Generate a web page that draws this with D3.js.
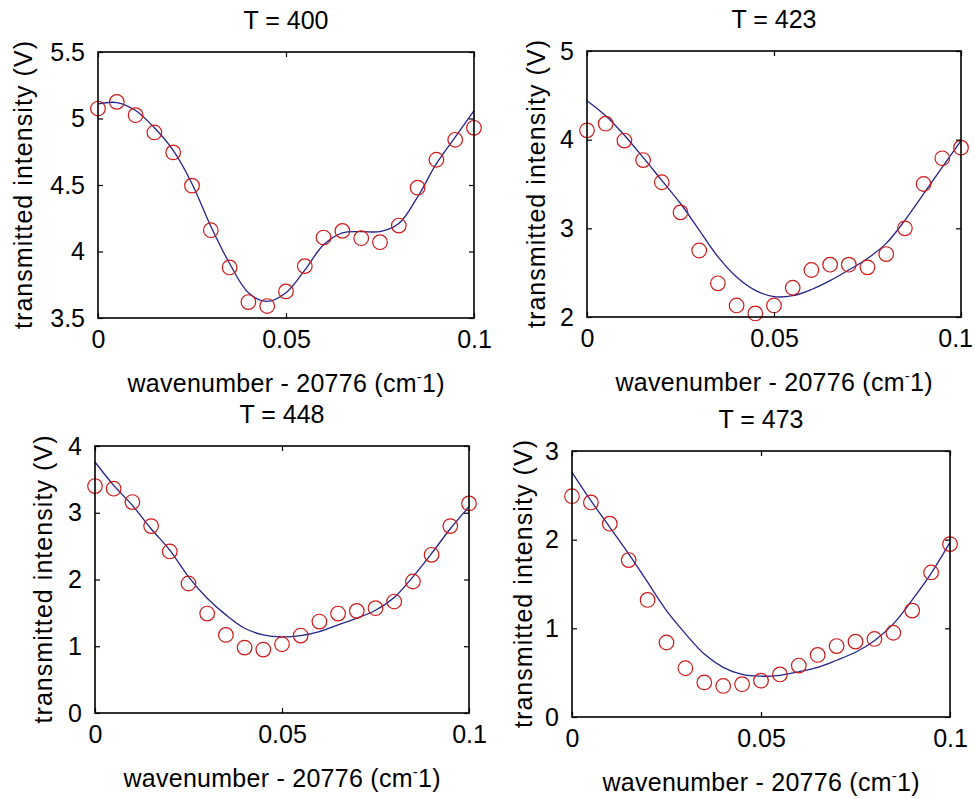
<!DOCTYPE html>
<html>
<head>
<meta charset="utf-8">
<script src="https://cdn.jsdelivr.net/npm/d3@7"></script>
<style>
  html, body { margin: 0; padding: 0; background: #ffffff; }
  svg { display: block; }
  text { font-family: "Liberation Sans", Arial, sans-serif; fill: #000; }
</style>
</head>
<body>
<svg id="chart" width="975" height="799"></svg>
<script>
// ---------- data ----------
const waveX = [0, 0.005, 0.01, 0.015, 0.02, 0.025, 0.03, 0.035, 0.04, 0.045, 0.05,
               0.055, 0.06, 0.065, 0.07, 0.075, 0.08, 0.085, 0.09, 0.095, 0.1];

const temperatures = [400, 423, 448, 473];

const obs400 = [5.075, 5.125, 5.025, 4.895, 4.745, 4.495, 4.16, 3.88, 3.62, 3.59, 3.70,
                3.89, 4.105, 4.155, 4.10, 4.07, 4.195, 4.48, 4.69, 4.84, 4.93];
const fit400 = [5.11, 5.12, 5.06, 4.93, 4.76, 4.51, 4.19, 3.91, 3.69, 3.625, 3.69,
                3.86, 4.05, 4.14, 4.15, 4.15, 4.21, 4.41, 4.66, 4.86, 5.06];

const obs423 = [4.105, 4.18, 3.99, 3.77, 3.52, 3.18, 2.75, 2.38, 2.13, 2.04, 2.13,
                2.33, 2.53, 2.59, 2.59, 2.56, 2.71, 3.00, 3.50, 3.79, 3.91];
const fit423 = [4.44, 4.27, 4.05, 3.80, 3.54, 3.28, 2.98, 2.68, 2.45, 2.30, 2.23,
                2.24, 2.31, 2.41, 2.53, 2.66, 2.83, 3.09, 3.39, 3.69, 3.99];

const obs448 = [3.40, 3.36, 3.16, 2.80, 2.42, 1.94, 1.49, 1.17, 0.98, 0.95, 1.03,
                1.16, 1.37, 1.49, 1.53, 1.57, 1.67, 1.97, 2.37, 2.80, 3.14];
const fit448 = [3.76, 3.41, 3.11, 2.76, 2.44, 2.04, 1.72, 1.47, 1.27, 1.17, 1.14,
                1.16, 1.22, 1.32, 1.42, 1.54, 1.73, 2.04, 2.39, 2.76, 3.09];

const obs473 = [2.49, 2.42, 2.18, 1.77, 1.32, 0.84, 0.55, 0.39, 0.35, 0.37, 0.41,
                0.48, 0.58, 0.70, 0.80, 0.85, 0.88, 0.95, 1.20, 1.63, 1.95];
const fit473 = [2.76, 2.44, 2.14, 1.84, 1.52, 1.20, 0.94, 0.71, 0.56, 0.48, 0.46,
                0.47, 0.51, 0.56, 0.64, 0.73, 0.86, 1.05, 1.32, 1.62, 1.97];

const xTicks = [0, 0.05, 0.1];
const xTickLabels = ["0", "0.05", "0.1"];
const yDomains = [[3.5, 5.5], [2, 5], [0, 4], [0, 3]];
const yTicks = [[3.5, 4, 4.5, 5, 5.5], [2, 3, 4, 5], [0, 1, 2, 3, 4], [0, 1, 2, 3]];
const yTickLabels = [["3.5", "4", "4.5", "5", "5.5"], ["2", "3", "4", "5"],
                     ["0", "1", "2", "3", "4"], ["0", "1", "2", "3"]];
const observed = [obs400, obs423, obs448, obs473];
const fitted = [fit400, fit423, fit448, fit473];

const xLabelMain = "wavenumber - 20776 (cm";
const yLabelText = "transmitted intensity (V)";

// ---------- layout (pixel boxes of each panel) ----------
const boxes = [
  { left: 98,  right: 474, top: 52,  bottom: 318, ylabOff: 66 },
  { left: 587, right: 961, top: 51,  bottom: 317, ylabOff: 42 },
  { left: 95,  right: 469, top: 446, bottom: 713, ylabOff: 43 },
  { left: 572, right: 950, top: 451, bottom: 717, ylabOff: 40 }
];

const svg = d3.select("#chart");
svg.append("rect").attr("width", 975).attr("height", 799).attr("fill", "#fff");

const lineColor = "#24248c";
const markColor = "#d01818";
const tickLen = 5;
const FONT = "Liberation Sans, Arial, sans-serif";

temperatures.forEach((T, i) => {
  const b = boxes[i];
  const x = d3.scaleLinear().domain([0, 0.1]).range([b.left, b.right]);
  const y = d3.scaleLinear().domain(yDomains[i]).range([b.bottom, b.top]);
  const g = svg.append("g");

  // fitted curve
  const line = d3.line()
    .x((d, k) => x(waveX[k]))
    .y(d => y(d))
    .curve(d3.curveCatmullRom.alpha(0.5));
  g.append("path")
    .attr("d", line(fitted[i]))
    .attr("fill", "none")
    .attr("stroke", lineColor)
    .attr("stroke-width", 1.3);

  // observed circles
  g.selectAll("circle.obs")
    .data(observed[i])
    .enter().append("circle")
    .attr("class", "obs")
    .attr("cx", (d, k) => x(waveX[k]))
    .attr("cy", d => y(d))
    .attr("r", 7.3)
    .attr("fill", "none")
    .attr("stroke", markColor)
    .attr("stroke-width", 1.2);

  // axes (ticks inside, mirrored)
  const xb = d3.axisBottom(x).tickValues(xTicks).tickSizeInner(-tickLen).tickSizeOuter(0)
    .tickFormat((d, k) => xTickLabels[k]).tickPadding(12);
  const xt = d3.axisTop(x).tickValues(xTicks).tickSizeInner(-tickLen).tickSizeOuter(0)
    .tickFormat("");
  const yl = d3.axisLeft(y).tickValues(yTicks[i]).tickSizeInner(-tickLen).tickSizeOuter(0)
    .tickFormat((d, k) => yTickLabels[i][k]).tickPadding(13);
  const yr = d3.axisRight(y).tickValues(yTicks[i]).tickSizeInner(-tickLen).tickSizeOuter(0)
    .tickFormat("");

  const styleAxis = sel => {
    sel.select(".domain").remove();
    sel.selectAll("line").attr("stroke", "#000").attr("stroke-width", 1.2);
    sel.selectAll("text").attr("font-family", FONT)
      .attr("font-size", 25).attr("fill", "#000");
  };
  const xAxisG = g.append("g").attr("transform", `translate(0,${b.bottom})`).call(xb).call(styleAxis);
  g.append("g").attr("transform", `translate(0,${b.top})`).call(xt).call(styleAxis);
  g.append("g").attr("transform", `translate(${b.left},0)`).call(yl).call(styleAxis);
  g.append("g").attr("transform", `translate(${b.right},0)`).call(yr).call(styleAxis);

  // keep the last x tick label inside the page
  xAxisG.selectAll(".tick").each(function () {
    const t = d3.select(this).select("text");
    const bb = this.getBBox();
    const m = this.getAttribute("transform").match(/translate\(([-\d.]+)/);
    const tx = m ? +m[1] : 0;
    const rightEdge = tx + bb.x + bb.width;
    if (rightEdge > 973) t.attr("x", 973 - rightEdge);
  });

  // frame
  g.append("rect")
    .attr("x", b.left).attr("y", b.top)
    .attr("width", b.right - b.left).attr("height", b.bottom - b.top)
    .attr("fill", "none").attr("stroke", "#000").attr("stroke-width", 1.6);

  // title
  g.append("text")
    .attr("x", (b.left + b.right) / 2).attr("y", b.top - 23)
    .attr("text-anchor", "middle").attr("font-size", 25)
    .text("T = " + T);

  // x label
  const xl = g.append("text")
    .attr("x", (b.left + b.right) / 2).attr("y", b.bottom + 74)
    .attr("text-anchor", "middle").attr("font-size", 25)
    .attr("textLength", 317).attr("lengthAdjust", "spacing");
  xl.append("tspan").text(xLabelMain);
  xl.append("tspan").attr("dy", -10).attr("font-size", 15).text("-");
  xl.append("tspan").attr("dy", 10).text("1)");

  // y label
  g.append("text")
    .attr("transform", `translate(${b.left - b.ylabOff},${(b.top + b.bottom) / 2}) rotate(-90)`)
    .attr("text-anchor", "middle").attr("font-size", 25)
    .attr("textLength", 288).attr("lengthAdjust", "spacing")
    .text(yLabelText);
});
</script>
</body>
</html>
